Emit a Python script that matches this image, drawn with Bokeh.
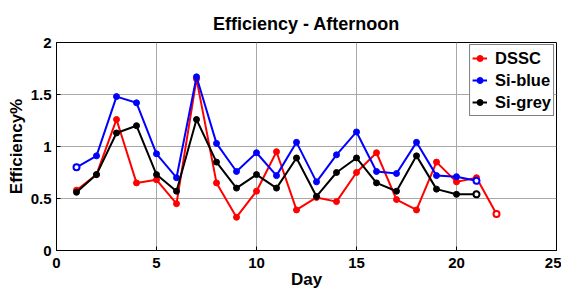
from bokeh.plotting import figure
from bokeh.models import FixedTicker, Legend
from bokeh.embed import file_html
from bokeh.resources import INLINE

# ---- data ----
days_dssc = list(range(1, 23))
days_si = list(range(1, 22))
dssc = [0.58, 0.73, 1.26, 0.65, 0.68, 0.45, 1.65, 0.65, 0.32, 0.57, 0.95,
        0.39, 0.51, 0.47, 0.75, 0.94, 0.49, 0.39, 0.85, 0.66, 0.70, 0.35]
si_blue = [0.80, 0.91, 1.48, 1.42, 0.93, 0.70, 1.67, 1.03, 0.76, 0.94, 0.72,
           1.04, 0.66, 0.92, 1.14, 0.76, 0.74, 1.04, 0.72, 0.71, 0.67]
si_grey = [0.56, 0.73, 1.13, 1.20, 0.73, 0.57, 1.26, 0.85, 0.60, 0.73, 0.60,
           0.89, 0.52, 0.75, 0.89, 0.65, 0.57, 0.91, 0.59, 0.54, 0.54]
x_ticks = [0, 5, 10, 15, 20, 25]
x_tick_labels = ["0", "5", "10", "15", "20", "25"]
y_ticks = [0, 0.5, 1, 1.5, 2]
y_tick_labels = ["0", "0.5", "1", "1.5", "2"]
title_text = "Efficiency - Afternoon"
x_label = "Day"
y_label = "Efficiency%"

FONT = "Liberation Sans"

p = figure(frame_width=500, frame_height=208, x_range=(0, 25), y_range=(0, 2),
           output_backend="svg", toolbar_location=None,
           min_border_left=56, min_border_right=5,
           min_border_top=42, min_border_bottom=10)

p.title.text = title_text
p.title.text_font = FONT
p.title.text_font_size = "18px"
p.title.text_font_style = "bold"
p.title.text_color = "black"
p.title.align = "center"
p.title.standoff = 17

p.outline_line_color = "black"
p.outline_line_width = 1
p.background_fill_color = "white"
p.border_fill_color = "white"

for ax, ticks, labels in ((p.xaxis[0], x_ticks, x_tick_labels),
                          (p.yaxis[0], y_ticks, y_tick_labels)):
    ax.ticker = FixedTicker(ticks=ticks)
    ax.major_label_overrides = {t: l for t, l in zip(ticks, labels)}
    ax.major_tick_in = 4
    ax.major_tick_out = 0
    ax.minor_tick_line_color = None
    ax.axis_line_color = "black"
    ax.major_tick_line_color = "black"
    ax.major_label_text_font = FONT
    ax.major_label_text_font_style = "bold"
    ax.major_label_text_color = "black"
    ax.major_label_text_font_size = "15px"
    ax.axis_label_text_font = FONT
    ax.axis_label_text_font_size = "17px"
    ax.axis_label_text_font_style = "bold"
    ax.axis_label_text_color = "black"

p.xaxis[0].axis_label = x_label
p.yaxis[0].axis_label = y_label
p.yaxis[0].major_label_standoff = 5
p.yaxis[0].axis_label_standoff = 2
p.xaxis[0].major_label_standoff = 7
p.xaxis[0].axis_label_standoff = -1
p.xaxis[0].axis_label_text_line_height = 0.8
p.xaxis[0].major_label_text_line_height = 0.9

p.grid.grid_line_color = "#a8a8a8"
p.grid.grid_line_width = 1
p.xgrid.ticker = FixedTicker(ticks=x_ticks)
p.ygrid.ticker = FixedTicker(ticks=y_ticks)

series = [
    ("DSSC", days_dssc, dssc, "#ff0000", [-1]),
    ("Si-blue", days_si, si_blue, "#0000ff", [0, -1]),
    ("Si-grey", days_si, si_grey, "#000000", [-1]),
]
items = []
for name, xs, ys, col, open_idx in series:
    l = p.line(xs, ys, line_color=col, line_width=2)
    s = p.scatter(xs, ys, size=6, fill_color=col, line_color=col)
    items.append((name, [l, s]))
    p.scatter([xs[i] for i in open_idx], [ys[i] for i in open_idx], size=6,
              fill_color="white", line_color=col, line_width=2)

legend = Legend(items=items, location="top_right")
legend.label_text_font = FONT
legend.label_text_font_size = "16.5px"
legend.label_text_font_style = "bold"
legend.label_text_color = "black"
legend.border_line_color = "black"
legend.border_line_width = 1
legend.background_fill_alpha = 1
legend.glyph_width = 15
legend.glyph_height = 22
legend.label_height = 22
legend.label_standoff = 8
legend.spacing = 0
legend.padding = 2
legend.margin = 2
p.add_layout(legend)

open("out.html", "w").write(file_html(p, INLINE))
